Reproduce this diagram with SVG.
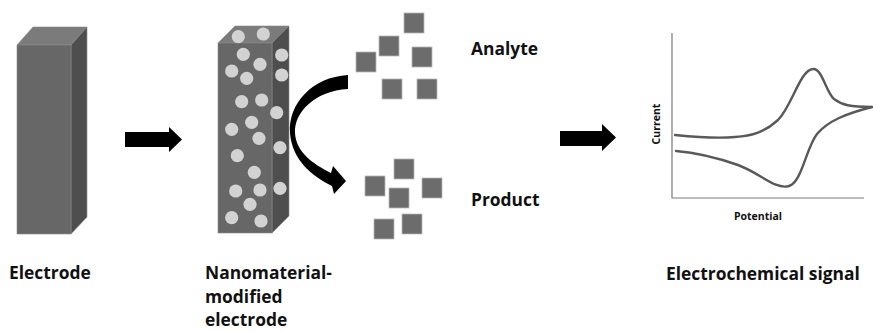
<svg xmlns="http://www.w3.org/2000/svg" width="873" height="332" viewBox="0 0 873 332">
  <style>
    .label { font-family: "Open Sans", "Liberation Sans", sans-serif; font-weight: 700; fill: #111; }
    .big { font-size: 17.4px; }
    .small { font-size: 10.5px; }
    .front { fill: #676767; stroke: #8a8a8a; stroke-width: 0.6; }
    .top { fill: #7b7b7b; stroke: #8a8a8a; stroke-width: 0.6; }
    .side { fill: #4e4e4e; stroke: #8a8a8a; stroke-width: 0.6; }
    .dot { fill: #d2d2d2; }
    .sq { fill: #6c6c6c; stroke: #b8b8b8; stroke-width: 0.8; }
    .axis { fill: none; stroke: #7a7a7a; stroke-width: 1.2; }
    .curve { fill: none; stroke: #595959; stroke-width: 2.4; stroke-linecap: round; }
    .block { fill: #000; }
  </style>
  <rect width="873" height="332" fill="#fff"/>

  <!-- bare electrode -->
  <g id="electrode">
    <polygon class="top" points="17,45 33,27 87,27 71,45"/>
    <polygon class="side" points="71,45 87,27 87,217 71,234"/>
    <rect class="front" x="17" y="45" width="54" height="189"/>
    <text class="label big" x="9" y="279">Electrode</text>
  </g>

  <!-- electrode modified with nanomaterial -->
  <g id="modified-electrode">
    <polygon class="top" points="218,43 235,26 289,26 272,43"/>
    <polygon class="side" points="272,43 289,26 289,216 272,233"/>
    <rect class="front" x="218" y="43" width="54" height="190"/>
    <g class="dot">
      <circle cx="238.3" cy="36.7" r="6.6"/>
      <circle cx="263.3" cy="34" r="6.6"/>
      <circle cx="243.3" cy="54.3" r="6.6"/>
      <circle cx="281.7" cy="55" r="6.6"/>
      <circle cx="231.7" cy="71" r="6.6"/>
      <circle cx="260" cy="64.3" r="6.6"/>
      <circle cx="246.7" cy="78.3" r="6.6"/>
      <circle cx="281.7" cy="75" r="6.6"/>
      <circle cx="241.7" cy="101.7" r="6.6"/>
      <circle cx="261.7" cy="100" r="6.6"/>
      <circle cx="276.7" cy="112.7" r="6.6"/>
      <circle cx="251.7" cy="122.3" r="6.6"/>
      <circle cx="231.7" cy="129.3" r="6.6"/>
      <circle cx="259" cy="138.3" r="6.6"/>
      <circle cx="237.3" cy="155.7" r="6.6"/>
      <circle cx="280" cy="147.7" r="6.6"/>
      <circle cx="254.3" cy="172.3" r="6.6"/>
      <circle cx="235.7" cy="191" r="6.6"/>
      <circle cx="260" cy="190" r="6.6"/>
      <circle cx="280" cy="188.3" r="6.6"/>
      <circle cx="250" cy="204.3" r="6.6"/>
      <circle cx="231.7" cy="217.7" r="6.6"/>
      <circle cx="261" cy="221" r="6.6"/>
    </g>
    <text class="label big" x="205" y="279">Nanomaterial-</text>
    <text class="label big" x="205" y="302.5">modified</text>
    <text class="label big" x="205" y="326">electrode</text>
  </g>

  <!-- analyte molecules -->
  <g id="analyte">
    <rect class="sq" x="404" y="13" width="20" height="20"/>
    <rect class="sq" x="379" y="36" width="20" height="20"/>
    <rect class="sq" x="356" y="52" width="20" height="20"/>
    <rect class="sq" x="412" y="47" width="20" height="20"/>
    <rect class="sq" x="382" y="79" width="20" height="20"/>
    <rect class="sq" x="417" y="79" width="20" height="20"/>
    <text class="label big" x="471" y="55">Analyte</text>
  </g>

  <!-- product molecules -->
  <g id="product">
    <rect class="sq" x="394" y="159" width="20" height="20"/>
    <rect class="sq" x="365" y="176" width="20" height="20"/>
    <rect class="sq" x="422" y="178" width="20" height="20"/>
    <rect class="sq" x="389" y="188" width="20" height="20"/>
    <rect class="sq" x="374" y="219" width="20" height="20"/>
    <rect class="sq" x="402" y="214" width="20" height="20"/>
    <text class="label big" x="471" y="206">Product</text>
  </g>

  <!-- cyclic voltammogram -->
  <g id="signal">
    <polyline class="axis" points="672,33 672,198 864,198"/>
    <path class="curve" d="M675,135 C695,137 715,139 735,137 C752,136 765,132 778,120 C792,106 800,70 813,69 C822,68 826,92 834,99 C842,105 850,107 872,107"/>
    <path class="curve" d="M676,151 C700,153 718,158 738,165 C760,173 775,190 789,186 C802,182 806,148 817,134 C828,121 845,114 872,107"/>
    <text class="label small" transform="translate(660,124) rotate(-90)" text-anchor="middle">Current</text>
    <text class="label small" x="758" y="220" text-anchor="middle">Potential</text>
    <text class="label big" x="666" y="280">Electrochemical signal</text>
  </g>

  <!-- connectors -->
  <g id="connectors">
    <polygon class="block" points="125,132 169,132 169,127 182,139.5 169,152 169,147 125,147"/>
    <polygon class="block" points="560,131 602,131 602,124 616,137.5 602,151 602,146 560,146"/>
    <path class="block" d="M348,75 C312,77 288,104 290,133 C292,160 312,176 332,186 L334,194 L346,181 L333,166 L331,173 C313,164 296,152 295,133 C294,112 315,91 348,89 Z" fill="#151515"/>
  </g>
</svg>
